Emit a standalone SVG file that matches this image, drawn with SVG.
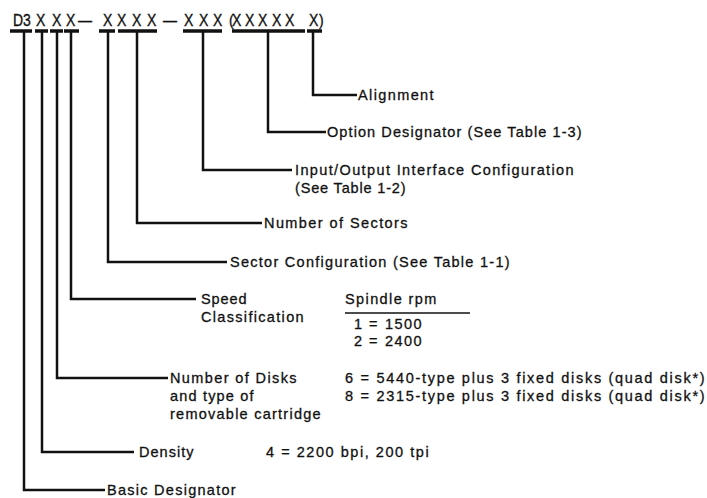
<svg xmlns="http://www.w3.org/2000/svg" width="707" height="498" viewBox="0 0 707 498">
<style>
  .t { font-family: "Liberation Sans", Arial, sans-serif; font-size: 14.5px; fill: #111; stroke: #111; stroke-width: 0.3; letter-spacing: 1.4px; }
  .code { font-family: "Liberation Sans", Arial, sans-serif; font-size: 14px; fill: #111; stroke: #111; stroke-width: 0.3; }
  .ln { fill: none; stroke: #111; stroke-width: 2.5; stroke-linecap: butt; stroke-linejoin: miter; }
  .bar { fill: none; stroke: #111; stroke-width: 3.5; }
</style>
<rect width="707" height="498" fill="#fff"/>

<g id="code" transform="matrix(1 0 0 1.2 0 26)">
  <text class="code" y="0" x="13 23 36 52 66 78 103 117 132 147 163 184 199 213 229 232 245 258 272 285 309 319">D3XXX—XXXX—XXX(XXXXXX)</text>
</g>

<g id="connectors">
  <line class="bar" x1="10" y1="31" x2="32" y2="31"/>
  <line class="bar" x1="35" y1="31" x2="48" y2="31"/>
  <line class="bar" x1="50" y1="31" x2="63" y2="31"/>
  <line class="bar" x1="64" y1="31" x2="79" y2="31"/>
  <line class="bar" x1="99" y1="31" x2="115" y2="31"/>
  <line class="bar" x1="118" y1="31" x2="157" y2="31"/>
  <line class="bar" x1="183" y1="31" x2="222" y2="31"/>
  <line class="bar" x1="232" y1="31" x2="305" y2="31"/>
  <line class="bar" x1="307" y1="31" x2="322" y2="31"/>
  <path class="ln" d="M313 31 V95 H357"/>
  <path class="ln" d="M268 31 V132 H326"/>
  <path class="ln" d="M203 31 V170 H292"/>
  <path class="ln" d="M137 31 V223 H262"/>
  <path class="ln" d="M108 31 V262 H227"/>
  <path class="ln" d="M71 31 V299 H196"/>
  <path class="ln" d="M57 31 V378 H168"/>
  <path class="ln" d="M42 31 V452 H134"/>
  <path class="ln" d="M24 31 V490 H105"/>
</g>

<g id="alignment">
  <text class="t" x="358" y="100" textLength="77" lengthAdjust="spacing">Alignment</text>
</g>
<g id="option-designator">
  <text class="t" x="327" y="137" textLength="256" lengthAdjust="spacing">Option Designator (See Table 1-3)</text>
</g>
<g id="io-interface">
  <text class="t" x="295" y="175" textLength="280" lengthAdjust="spacing">Input/Output Interface Configuration</text>
  <text class="t" x="295" y="193" textLength="112" lengthAdjust="spacing">(See Table 1-2)</text>
</g>
<g id="number-of-sectors">
  <text class="t" x="264" y="228" textLength="145" lengthAdjust="spacing">Number of Sectors</text>
</g>
<g id="sector-configuration">
  <text class="t" x="230" y="267" textLength="281" lengthAdjust="spacing">Sector Configuration (See Table 1-1)</text>
</g>
<g id="speed-classification">
  <text class="t" x="201" y="304" textLength="47" lengthAdjust="spacing">Speed</text>
  <text class="t" x="201" y="322" textLength="104" lengthAdjust="spacing">Classification</text>
  <text class="t" x="345" y="304">Spindle rpm</text>
  <line x1="345" y1="313" x2="470" y2="313" stroke="#111" stroke-width="1.5"/>
  <text class="t" y="329"><tspan x="354">1</tspan><tspan x="369">=</tspan><tspan x="385">1500</tspan></text>
  <text class="t" y="346"><tspan x="354">2</tspan><tspan x="369">=</tspan><tspan x="385">2400</tspan></text>
</g>
<g id="number-of-disks">
  <text class="t" x="170" y="383" textLength="128" lengthAdjust="spacing">Number of Disks</text>
  <text class="t" x="170" y="401" textLength="85" lengthAdjust="spacing">and type of</text>
  <text class="t" x="170" y="419" textLength="152" lengthAdjust="spacing">removable cartridge</text>
  <text class="t" x="345" y="383" textLength="361" lengthAdjust="spacing">6 = 5440-type plus 3 fixed disks (quad disk*)</text>
  <text class="t" x="345" y="401" textLength="361" lengthAdjust="spacing">8 = 2315-type plus 3 fixed disks (quad disk*)</text>
</g>
<g id="density">
  <text class="t" x="139" y="457" textLength="56" lengthAdjust="spacing">Density</text>
  <text class="t" x="266" y="457" textLength="164" lengthAdjust="spacing">4 = 2200 bpi, 200 tpi</text>
</g>
<g id="basic-designator">
  <text class="t" x="107" y="495" textLength="130" lengthAdjust="spacing">Basic Designator</text>
</g>
</svg>
